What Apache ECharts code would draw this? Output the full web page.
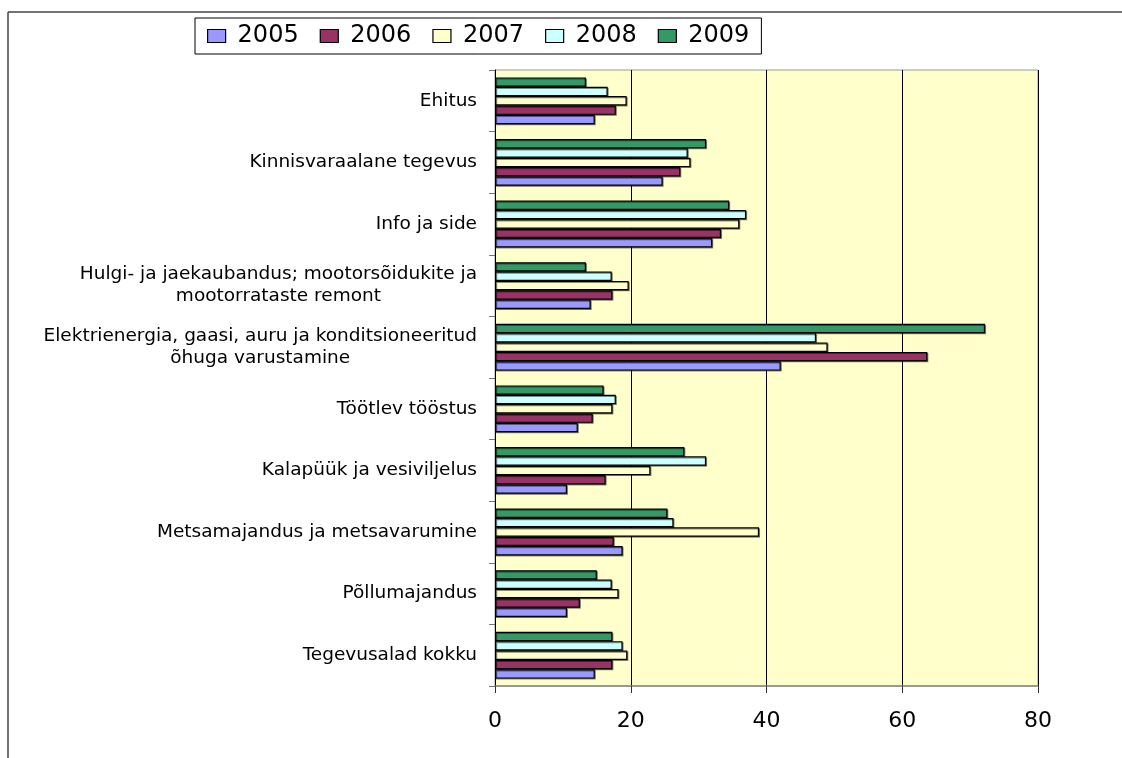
<!DOCTYPE html>
<html>
<head>
<meta charset="utf-8">
<script src="https://cdn.jsdelivr.net/npm/echarts@6/dist/echarts.min.js"></script>
<style>
  html, body { margin: 0; padding: 0; background: #fff; }
  #chart { width: 1122px; height: 758px; }
</style>
</head>
<body>
<div id="chart"></div>
<script>
// categories, bottom to top as drawn
var categories = [
  'Tegevusalad kokku',
  'Põllumajandus',
  'Metsamajandus ja metsavarumine',
  'Kalapüük ja vesiviljelus',
  'Töötlev tööstus',
  'Elektrienergia, gaasi, auru ja konditsioneeritud\nõhuga varustamine',
  'Hulgi- ja jaekaubandus; mootorsõidukite ja\nmootorrataste remont',
  'Info ja side',
  'Kinnisvaraalane tegevus',
  'Ehitus'
]
var years = ['2005', '2006', '2007', '2008', '2009']
var v2005 = [14.7, 10.6, 18.8, 10.6, 12.2, 42.1, 14.1, 32.0, 24.7, 14.7]
var v2006 = [17.3, 12.5, 17.5, 16.3, 14.4, 63.7, 17.3, 33.3, 27.3, 17.8]
var v2007 = [19.5, 18.2, 38.9, 22.9, 17.3, 49.0, 19.7, 36.0, 28.8, 19.4]
var v2008 = [18.8, 17.2, 26.3, 31.1, 17.8, 47.3, 17.2, 37.0, 28.4, 16.6]
var v2009 = [17.3, 15.0, 25.4, 27.9, 16.0, 72.2, 13.4, 34.5, 31.1, 13.4]
var xTicks = [0, 20, 40, 60, 80]

var values = [v2005, v2006, v2007, v2008, v2009]
var colors = ['#9999FF', '#993366', '#FFFFCC', '#CCFFFF', '#339966']

var chart = echarts.init(document.getElementById('chart'))

// 2009 goes first so it sits on top within each group
var series = []
for (var i = years.length - 1; i >= 0; i--) {
  series.push({
    name: years[i],
    type: 'bar',
    data: values[i],
    barGap: '0%',
    barCategoryGap: '24%',
    itemStyle: {
      color: colors[i],
      borderColor: '#000',
      borderWidth: 1.2,
      shadowColor: 'rgba(0,0,0,0.45)',
      shadowOffsetX: 1,
      shadowOffsetY: 1
    },
    emphasis: { disabled: true }
  })
}

chart.setOption({
  animation: false,
  textStyle: { fontFamily: 'DejaVu Sans, Verdana, sans-serif' },
  graphic: [
    { type: 'line', shape: { x1: 8, y1: 12, x2: 1122, y2: 12 }, style: { stroke: '#444', lineWidth: 1.5 } },
    { type: 'line', shape: { x1: 8, y1: 12, x2: 8, y2: 758 }, style: { stroke: '#444', lineWidth: 1.5 } }
  ],
  legend: {
    data: years,
    left: 195,
    top: 18,
    padding: [6, 12, 6, 12],
    itemGap: 21,
    itemWidth: 18,
    itemHeight: 13,
    borderColor: '#000',
    borderWidth: 1,
    icon: 'rect',
    itemStyle: { borderColor: '#000', borderWidth: 1.2 },
    textStyle: { fontSize: 24, color: '#000', padding: [2, 0, 0, 7] }
  },
  grid: {
    left: 495,
    right: 84,
    top: 70,
    bottom: 72,
    show: true,
    backgroundColor: '#FFFFCC',
    borderColor: '#999',
    borderWidth: 1
  },
  xAxis: {
    type: 'value',
    min: xTicks[0],
    max: xTicks[xTicks.length - 1],
    interval: 20,
    axisLine: { show: true, lineStyle: { color: '#888', width: 1.5 } },
    axisTick: { show: true, length: 7, lineStyle: { color: '#333' } },
    axisLabel: { fontSize: 22, color: '#000', margin: 24 },
    splitLine: { show: true, lineStyle: { color: '#000', width: 1 } }
  },
  yAxis: {
    type: 'category',
    data: categories,
    axisLine: { show: true, lineStyle: { color: '#000', width: 1 } },
    axisTick: { show: true, length: 6, lineStyle: { color: '#777' } },
    axisLabel: {
      color: '#000',
      margin: 18,
      formatter: function (v) { return '{c|' + v + '}' },
      rich: { c: { fontSize: 18.5, color: '#000', align: 'center', lineHeight: 22 } }
    },
    splitLine: { show: false }
  },
  series: series
})
</script>
</body>
</html>
